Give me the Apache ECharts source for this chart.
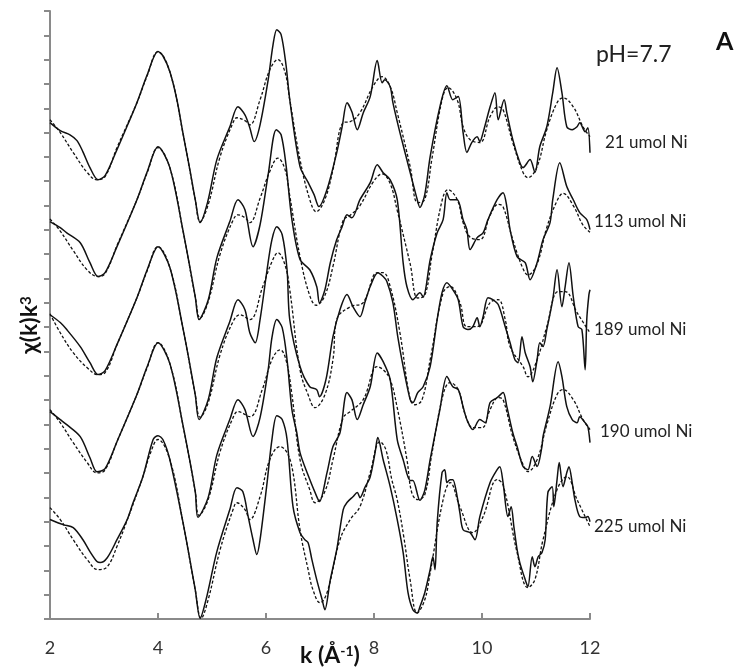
<!DOCTYPE html>
<html><head><meta charset="utf-8">
<script src="https://cdn.jsdelivr.net/npm/echarts@6/dist/echarts.min.js"></script>
<style>html,body{margin:0;padding:0;background:#fff}#c{width:743px;height:670px}</style>
</head><body><div id="c"></div>
<script>
// Sample labels (top to bottom) and vertical offsets used to stack the spectra
const samples = ['21 umol Ni', '113 umol Ni', '189 umol Ni', '190 umol Ni', '225 umol Ni'];
const offsets = [20, 16, 12, 8, 4];
const xTicks = [2, 4, 6, 8, 10, 12];

// chi(k)k^3 data (solid) and fits (dashed), [k, value]
const sol21 = [[2.00,0.41],[2.19,0.08],[2.37,-0.09],[2.50,-0.33],[2.61,-0.79],[2.74,-1.44],[2.89,-1.94],[3.02,-1.77],[3.24,-0.70],[3.43,0.28],[3.61,1.23],[3.80,2.38],[4.00,3.33],[4.09,3.16],[4.22,2.50],[4.35,1.35],[4.46,0.00],[4.59,-1.52],[4.69,-2.76],[4.78,-3.70],[4.92,-2.85],[5.09,-1.11],[5.33,0.24],[5.48,1.06],[5.61,0.73],[5.70,0.20],[5.78,-0.37],[5.89,0.32],[6.04,2.17],[6.13,3.61],[6.20,4.23],[6.28,4.03],[6.37,2.79],[6.44,1.35],[6.63,-1.40],[6.78,-2.05],[6.89,-2.55],[6.98,-3.04],[7.13,-2.34],[7.31,-0.82],[7.41,0.24],[7.50,1.23],[7.59,0.86],[7.69,0.12],[7.80,0.81],[7.93,1.48],[8.06,2.96],[8.15,2.05],[8.20,2.17],[8.30,1.89],[8.35,1.23],[8.48,0.00],[8.67,-1.64],[8.80,-2.75],[8.85,-3.08],[8.94,-2.55],[9.04,-0.99],[9.22,1.06],[9.35,1.93],[9.46,1.35],[9.56,1.48],[9.65,0.00],[9.72,-0.82],[9.81,-0.41],[9.91,-0.17],[9.96,-0.37],[10.02,0.00],[10.15,1.06],[10.24,1.64],[10.30,0.53],[10.41,1.35],[10.46,0.81],[10.57,-0.29],[10.70,-1.23],[10.76,-1.44],[10.89,-1.11],[10.98,-1.64],[11.07,-0.58],[11.20,0.24],[11.31,1.64],[11.39,2.67],[11.48,1.64],[11.57,0.24],[11.67,0.12],[11.76,0.24],[11.81,0.41],[11.91,0.04],[11.96,0.20],[12.00,-0.83]];
const fit21 = [[2.00,0.53],[2.19,0.00],[2.43,-0.82],[2.69,-1.64],[2.87,-1.94],[3.02,-1.81],[3.24,-0.62],[3.61,1.23],[3.80,2.34],[4.00,3.33],[4.22,2.50],[4.46,0.00],[4.69,-2.76],[4.78,-3.66],[4.93,-2.96],[5.15,-0.99],[5.39,0.41],[5.46,0.61],[5.61,0.49],[5.70,0.32],[5.89,1.35],[6.07,2.58],[6.22,3.00],[6.35,2.50],[6.44,1.35],[6.63,-1.11],[6.81,-2.75],[6.93,-3.25],[7.09,-2.75],[7.24,-1.52],[7.43,0.41],[7.56,0.45],[7.74,0.82],[7.98,1.89],[8.15,2.30],[8.30,1.89],[8.43,0.82],[8.67,-1.40],[8.81,-2.88],[8.94,-2.75],[9.07,-1.11],[9.26,1.35],[9.37,1.85],[9.54,1.35],[9.65,0.24],[9.78,-0.29],[9.96,-0.41],[10.15,0.66],[10.30,1.06],[10.39,0.94],[10.57,-0.41],[10.76,-1.64],[10.85,-1.85],[11.02,-1.40],[11.20,0.12],[11.39,1.23],[11.50,1.43],[11.69,1.06],[11.87,0.24],[12.00,-0.17]];

const sol113 = [[2.00,0.34],[2.19,0.09],[2.31,-0.12],[2.56,-0.53],[2.74,-1.35],[2.89,-1.92],[3.02,-1.76],[3.24,-0.69],[3.61,1.24],[3.80,2.39],[4.00,3.42],[4.22,2.56],[4.46,0.00],[4.69,-2.75],[4.76,-3.69],[4.93,-2.88],[5.09,-1.15],[5.33,0.34],[5.48,1.24],[5.61,0.83],[5.76,-0.69],[5.89,0.21],[6.04,2.27],[6.19,4.12],[6.28,3.91],[6.37,2.68],[6.48,0.42],[6.63,-1.22],[6.81,-1.64],[6.94,-2.34],[6.99,-3.00],[7.09,-2.47],[7.19,-1.36],[7.31,-0.40],[7.41,0.13],[7.50,0.62],[7.59,0.50],[7.74,1.24],[7.93,1.94],[8.06,2.68],[8.17,2.35],[8.30,2.06],[8.43,1.24],[8.54,-1.36],[8.61,-2.34],[8.72,-2.87],[8.85,-2.59],[8.91,-2.75],[9.04,-1.23],[9.17,-0.12],[9.28,0.42],[9.35,1.53],[9.41,1.24],[9.54,1.24],[9.65,0.42],[9.72,0.01],[9.78,-0.81],[9.91,-0.32],[10.02,-0.12],[10.11,0.42],[10.28,1.24],[10.39,1.53],[10.46,0.95],[10.52,0.01],[10.65,-1.10],[10.80,-1.35],[10.89,-2.05],[11.02,-1.35],[11.13,-0.40],[11.26,0.30],[11.31,1.24],[11.44,2.76],[11.57,1.78],[11.69,1.24],[11.81,0.71],[11.94,0.42],[12.00,0.01]];
const fit113 = [[2.00,0.45],[2.19,-0.05],[2.43,-0.85],[2.69,-1.65],[2.89,-1.92],[3.02,-1.80],[3.24,-0.65],[3.61,1.24],[3.80,2.35],[4.00,3.38],[4.22,2.55],[4.46,0.00],[4.69,-2.75],[4.78,-3.62],[4.93,-2.95],[5.15,-1.00],[5.39,0.40],[5.48,0.62],[5.61,0.50],[5.70,0.30],[5.89,1.30],[6.07,2.40],[6.22,2.95],[6.35,2.50],[6.44,1.40],[6.63,-1.10],[6.81,-2.70],[6.93,-3.10],[7.09,-2.70],[7.24,-1.50],[7.43,0.40],[7.56,0.60],[7.74,1.00],[7.98,1.95],[8.15,2.30],[8.30,1.90],[8.43,0.80],[8.67,-1.40],[8.81,-2.80],[8.94,-2.70],[9.07,-1.10],[9.26,1.20],[9.37,1.65],[9.54,1.25],[9.65,0.30],[9.78,-0.30],[9.96,-0.40],[10.15,0.60],[10.30,1.05],[10.39,0.95],[10.57,-0.40],[10.76,-1.60],[10.85,-1.85],[11.02,-1.40],[11.20,0.10],[11.39,1.20],[11.50,1.50],[11.69,1.00],[11.87,0.20],[12.00,-0.10]];

const sol189 = [[2.00,0.51],[2.19,0.19],[2.31,-0.10],[2.56,-0.80],[2.74,-1.46],[2.89,-1.95],[3.02,-1.79],[3.24,-0.72],[3.61,1.21],[3.80,2.36],[4.00,3.31],[4.22,2.45],[4.46,-0.02],[4.69,-2.78],[4.76,-3.80],[4.93,-2.98],[5.09,-1.25],[5.33,0.23],[5.48,1.13],[5.61,0.72],[5.70,-0.23],[5.80,-0.64],[5.89,0.31],[6.02,2.36],[6.11,3.60],[6.20,4.13],[6.30,3.80],[6.39,2.36],[6.44,0.31],[6.63,-1.62],[6.81,-2.45],[6.94,-2.57],[6.99,-2.86],[7.11,-2.16],[7.24,-0.39],[7.37,0.72],[7.50,1.34],[7.61,0.84],[7.74,0.43],[7.83,1.01],[7.93,1.67],[8.07,2.24],[8.17,2.08],[8.24,1.87],[8.35,1.01],[8.44,-0.39],[8.54,-1.62],[8.67,-2.98],[8.72,-3.10],[8.81,-2.69],[8.91,-2.45],[9.04,-1.62],[9.17,0.31],[9.26,1.42],[9.35,1.83],[9.46,1.54],[9.56,1.13],[9.65,0.02],[9.74,-0.10],[9.83,0.02],[9.91,0.39],[9.96,0.02],[10.02,0.43],[10.11,1.21],[10.20,1.13],[10.30,0.93],[10.43,0.02],[10.52,-0.64],[10.61,-1.34],[10.67,-1.46],[10.74,-0.39],[10.80,-1.05],[10.89,-1.62],[10.94,-2.24],[11.02,-1.34],[11.07,-0.64],[11.13,-0.80],[11.20,-0.10],[11.31,1.13],[11.39,2.36],[11.48,0.84],[11.54,1.67],[11.61,2.65],[11.69,1.25],[11.78,0.02],[11.85,-0.10],[11.91,-1.75],[11.94,0.31],[11.98,1.34],[12.00,1.54]];
const fit189 = [[2.00,0.55],[2.19,-0.23],[2.43,-1.05],[2.69,-1.67],[2.89,-1.95],[3.02,-1.87],[3.24,-0.72],[3.61,1.21],[3.80,2.32],[4.00,3.31],[4.22,2.45],[4.46,-0.02],[4.69,-2.78],[4.78,-3.70],[4.93,-3.10],[5.15,-1.13],[5.39,0.23],[5.52,0.51],[5.70,0.31],[5.94,1.67],[6.11,2.69],[6.22,3.06],[6.35,2.57],[6.44,1.54],[6.63,-1.75],[6.78,-2.78],[6.91,-3.31],[7.09,-2.78],[7.24,-1.34],[7.31,0.31],[7.56,0.84],[7.80,1.01],[8.06,2.24],[8.17,2.24],[8.30,1.67],[8.48,-0.23],[8.67,-2.98],[8.76,-3.19],[8.89,-2.98],[9.04,-1.34],[9.28,1.42],[9.41,1.67],[9.59,1.01],[9.72,0.02],[9.91,0.02],[10.15,1.01],[10.30,1.13],[10.43,0.31],[10.52,-0.80],[10.76,-1.62],[10.85,-2.04],[11.02,-1.34],[11.20,0.02],[11.41,1.46],[11.54,1.46],[11.76,0.60],[12.00,-0.23]];

const sol190 = [[2.00,0.53],[2.19,0.20],[2.31,-0.01],[2.56,-0.50],[2.74,-1.37],[2.87,-1.95],[3.02,-1.82],[3.24,-0.71],[3.61,1.23],[3.80,2.38],[4.00,3.36],[4.22,2.50],[4.46,-0.01],[4.69,-2.76],[4.74,-3.82],[4.93,-3.00],[5.09,-1.25],[5.33,0.20],[5.48,1.02],[5.61,0.61],[5.76,-0.50],[5.89,0.28],[6.04,2.25],[6.11,3.57],[6.20,4.31],[6.30,3.98],[6.39,2.66],[6.48,0.61],[6.57,-0.34],[6.63,-1.16],[6.76,-1.98],[6.94,-2.97],[6.99,-3.17],[7.13,-1.98],[7.24,-0.91],[7.37,-0.34],[7.50,1.31],[7.59,1.02],[7.69,0.20],[7.80,0.81],[7.93,1.55],[8.06,2.94],[8.17,2.58],[8.30,1.84],[8.43,-0.62],[8.54,-1.45],[8.67,-2.30],[8.72,-2.30],[8.85,-3.12],[8.94,-2.71],[9.04,-1.45],[9.22,0.61],[9.35,1.97],[9.46,1.55],[9.56,1.43],[9.65,0.73],[9.72,0.20],[9.83,-0.21],[9.96,0.20],[10.06,0.07],[10.15,0.90],[10.28,1.10],[10.39,1.31],[10.46,0.73],[10.57,-0.34],[10.65,-0.91],[10.76,-1.73],[10.85,-1.86],[10.93,-1.32],[11.02,-1.73],[11.11,-0.91],[11.13,-0.50],[11.26,0.73],[11.41,2.58],[11.48,1.97],[11.57,0.73],[11.67,0.20],[11.76,0.07],[11.81,0.32],[11.91,0.07],[11.96,-0.09],[12.00,-0.75]];
const fit190 = [[2.00,0.61],[2.19,0.07],[2.43,-0.75],[2.69,-1.57],[2.87,-1.99],[3.02,-1.87],[3.24,-0.71],[3.61,1.23],[3.80,2.34],[4.00,3.36],[4.22,2.50],[4.46,-0.01],[4.69,-2.76],[4.76,-3.74],[4.93,-3.08],[5.15,-1.12],[5.39,0.28],[5.48,0.53],[5.70,0.32],[5.93,1.43],[6.11,2.66],[6.26,3.07],[6.37,2.66],[6.48,1.23],[6.63,-1.45],[6.81,-2.68],[6.91,-3.22],[7.09,-2.76],[7.24,-1.45],[7.43,0.28],[7.56,0.53],[7.80,1.02],[8.06,2.38],[8.17,2.25],[8.30,1.84],[8.43,0.69],[8.61,-1.45],[8.70,-2.81],[8.81,-3.09],[8.94,-2.89],[9.07,-1.23],[9.28,1.23],[9.41,1.72],[9.56,1.43],[9.69,0.40],[9.83,-0.13],[10.00,-0.13],[10.15,0.61],[10.30,1.10],[10.39,1.02],[10.57,-0.50],[10.76,-1.65],[10.85,-1.94],[11.02,-1.45],[11.20,-0.01],[11.39,1.23],[11.50,1.43],[11.69,1.02],[11.87,0.20],[12.00,-0.21]];

const sol225 = [[2.00,0.09],[2.24,-0.12],[2.43,-0.24],[2.61,-0.74],[2.74,-1.23],[2.87,-1.64],[2.93,-1.68],[3.06,-1.48],[3.24,-0.74],[3.43,0.09],[3.54,0.79],[3.72,1.85],[3.91,3.38],[4.00,3.54],[4.09,3.38],[4.22,2.55],[4.46,0.00],[4.69,-2.80],[4.78,-3.97],[4.89,-3.20],[5.09,-1.23],[5.33,0.50],[5.46,1.40],[5.57,1.24],[5.67,0.21],[5.76,-0.74],[5.83,-1.35],[5.89,-0.74],[6.02,1.61],[6.11,3.38],[6.20,4.36],[6.30,4.20],[6.39,3.38],[6.50,0.62],[6.63,-0.45],[6.72,-0.74],[6.78,-0.86],[6.85,-1.56],[6.94,-2.39],[7.04,-3.21],[7.09,-3.62],[7.19,-2.39],[7.31,-1.15],[7.43,0.50],[7.50,0.79],[7.61,1.03],[7.69,1.20],[7.74,0.99],[7.83,1.40],[7.93,1.85],[8.02,2.84],[8.07,3.46],[8.17,2.55],[8.30,1.44],[8.43,0.09],[8.54,-1.27],[8.63,-2.92],[8.72,-3.62],[8.80,-3.75],[8.85,-3.50],[8.94,-2.92],[9.04,-1.97],[9.09,-1.44],[9.13,-1.97],[9.17,-0.04],[9.26,2.02],[9.31,2.14],[9.35,1.61],[9.41,1.73],[9.46,1.73],[9.54,1.03],[9.59,0.37],[9.65,-0.33],[9.78,-0.45],[9.87,-0.74],[9.96,0.21],[10.15,1.61],[10.28,2.14],[10.33,2.26],[10.39,1.61],[10.48,0.21],[10.54,0.62],[10.59,-0.20],[10.65,-1.15],[10.70,-1.68],[10.80,-2.38],[10.85,-2.67],[10.93,-1.44],[10.98,-1.85],[11.04,-1.44],[11.11,-1.27],[11.17,-0.74],[11.22,1.20],[11.30,1.44],[11.33,0.62],[11.39,1.73],[11.43,2.43],[11.50,1.44],[11.57,2.02],[11.61,2.26],[11.67,1.61],[11.72,0.91],[11.81,0.21],[11.91,0.17],[11.96,0.21],[12.00,0.00]];
const fit225 = [[2.00,0.58],[2.19,0.09],[2.43,-0.74],[2.69,-1.56],[2.89,-1.97],[3.06,-1.85],[3.24,-1.02],[3.48,0.37],[3.72,1.85],[3.85,2.76],[4.00,3.38],[4.22,2.55],[4.46,0.00],[4.69,-2.80],[4.80,-3.97],[4.93,-3.20],[5.15,-1.15],[5.39,0.50],[5.46,0.78],[5.61,0.50],[5.70,0.09],[5.89,1.03],[6.07,2.55],[6.26,3.09],[6.39,2.84],[6.50,2.02],[6.63,-0.33],[6.78,-1.97],[6.87,-2.80],[7.00,-3.33],[7.13,-2.92],[7.37,-0.74],[7.56,0.09],[7.74,0.62],[7.93,2.02],[8.11,3.29],[8.22,2.96],[8.33,1.73],[8.43,0.90],[8.55,-0.60],[8.67,-2.40],[8.80,-3.75],[8.94,-3.21],[9.04,-2.10],[9.28,0.91],[9.41,1.61],[9.59,0.62],[9.83,-0.45],[10.02,0.21],[10.28,1.73],[10.39,1.52],[10.65,-1.27],[10.85,-2.71],[10.98,-2.38],[11.13,-0.74],[11.39,1.32],[11.57,1.85],[11.76,0.91],[12.00,-0.20]];

const solids = [sol21, sol113, sol189, sol190, sol225];
const fits = [fit21, fit113, fit189, fit190, fit225];
const labelPos = [[605,143],[594,222],[594,330],[600,432],[594,527]];

const series = [];
samples.forEach((name, i) => {
  series.push({
    name: name, type: 'line', silent: true, showSymbol: false, smooth: 0.3, z: 3,
    data: solids[i].map(p => [p[0], p[1] + offsets[i]]),
    lineStyle: { color: '#111', width: 1.5 }
  });
  series.push({
    name: name + ' fit', type: 'line', silent: true, showSymbol: false, smooth: 0.4, z: 2,
    data: fits[i].map(p => [p[0], p[1] + offsets[i]]),
    lineStyle: { color: '#111', width: 1.3, type: [3, 2] }
  });
});

const graphics = [
  { type: 'text', left: 596, top: 43, style: { text: 'pH=7.7', font: '23px Lato', fill: '#222' } },
  { type: 'text', left: 716, top: 29, style: { text: 'A', font: 'bold 25px Lato', fill: '#111' } },
  { type: 'text', x: 30, y: 325, rotation: Math.PI / 2, style: {
      text: '{b|χ(k)k}{s|3}', align: 'center', verticalAlign: 'middle',
      rich: { b: { font: 'bold 23px Lato', fill: '#111', verticalAlign: 'bottom' },
              s: { font: 'bold 15px Lato', fill: '#111', verticalAlign: 'top' } } } },
  { type: 'text', x: 330, y: 656, style: {
      text: '{b|k (Å}{s|-1}{b|)}', align: 'center', verticalAlign: 'middle',
      rich: { b: { font: 'bold 23px Lato', fill: '#111', verticalAlign: 'bottom' },
              s: { font: 'bold 14px Lato', fill: '#111', verticalAlign: 'top' } } } }
];
samples.forEach((name, i) => {
  graphics.push({ type: 'text', x: labelPos[i][0], y: labelPos[i][1], style: { text: name, font: '17px Lato', fill: '#222', verticalAlign: 'middle' } });
});

const chart = echarts.init(document.getElementById('c'), null, { renderer: 'canvas' });
chart.setOption({
  animation: false,
  backgroundColor: '#fff',
  grid: { left: 50, right: 153, top: 11, bottom: 51, containLabel: false },
  xAxis: {
    type: 'value', min: xTicks[0], max: xTicks[xTicks.length - 1], interval: 2,
    axisLine: { lineStyle: { color: '#8a8a8a', width: 2 } },
    axisTick: { inside: true, length: 6, lineStyle: { color: '#8a8a8a', width: 2 } },
    axisLabel: { color: '#333', fontSize: 18, fontFamily: 'Lato', margin: 20 },
    splitLine: { show: false }
  },
  yAxis: {
    type: 'value', min: 0, max: 25, interval: 1,
    axisLine: { show: true, lineStyle: { color: '#8a8a8a', width: 2 } },
    axisTick: { show: true, inside: false, length: 6, lineStyle: { color: '#8a8a8a', width: 2 } },
    axisLabel: { show: false },
    splitLine: { show: false }
  },
  graphic: graphics,
  series: series
});
</script></body></html>
